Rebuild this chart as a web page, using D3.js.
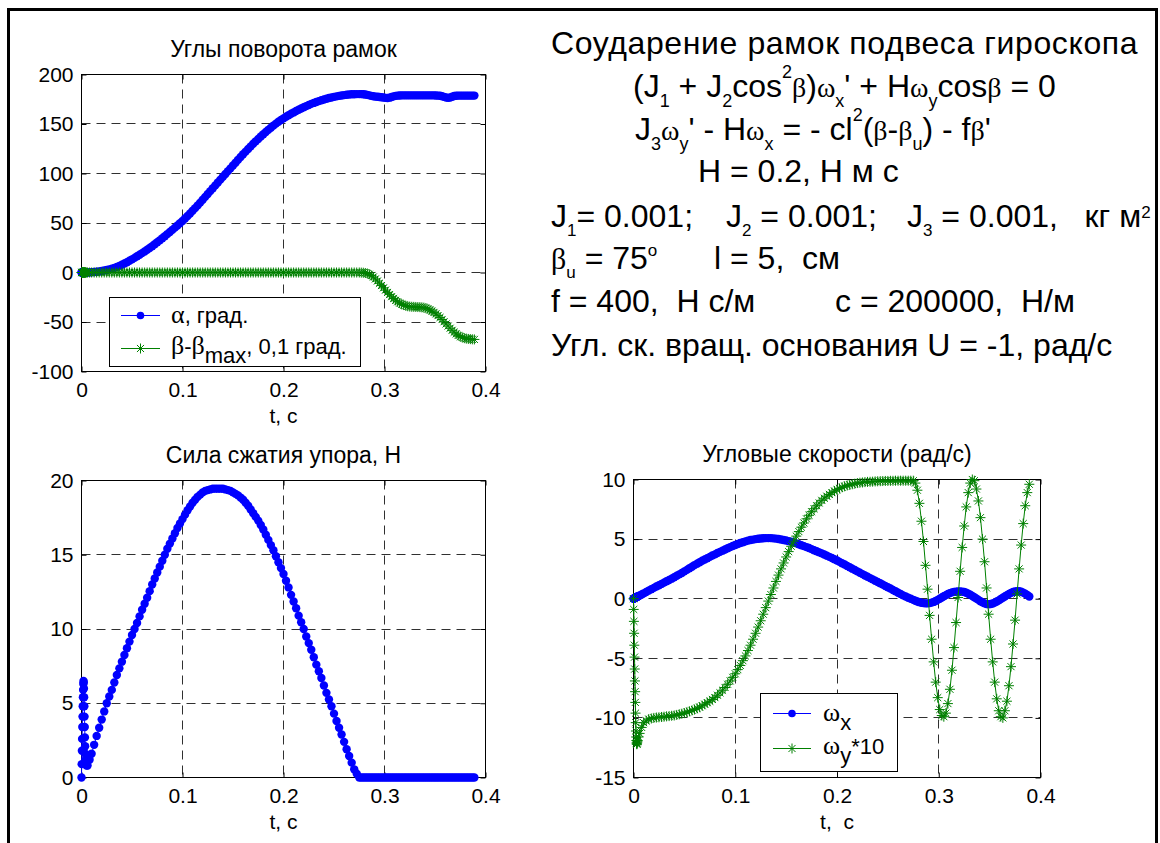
<!DOCTYPE html>
<html>
<head>
<meta charset="utf-8">
<script src="https://cdn.jsdelivr.net/npm/d3@7"></script>
<style>
  html, body { margin: 0; padding: 0; background: #fff; }
  svg { display: block; }
  text { font-family: "Liberation Sans", Arial, Helvetica, sans-serif; fill: #000; white-space: pre; }
</style>
</head>
<body>
<svg id="chart" width="1160" height="843"></svg>
<script>
// ---------------- DATA ----------------
const time = [
  0,0.0002,0.0004,0.0006,0.0008,0.001,0.0012,0.0014,0.0016,0.0018,0.002,0.0022,0.0024,0.0026,0.0028,0.003,0.0032,0.0034,0.0036,0.0038,0.004,
  0.005,0.006,0.008,
  0.01,0.0125,0.015,0.0175,0.02,0.0225,0.025,0.0275,0.03,0.0325,0.035,0.0375,0.04,0.0425,0.045,0.0475,0.05,0.0525,0.055,0.0575,
  0.06,0.0625,0.065,0.0675,0.07,0.0725,0.075,0.0775,0.08,0.0825,0.085,0.0875,0.09,0.0925,0.095,0.0975,0.1,0.1025,0.105,0.1075,
  0.11,0.1125,0.115,0.1175,0.12,0.1225,0.125,0.1275,0.13,0.1325,0.135,0.1375,0.14,0.1425,0.145,0.1475,0.15,0.1525,0.155,0.1575,
  0.16,0.1625,0.165,0.1675,0.17,0.1725,0.175,0.1775,0.18,0.1825,0.185,0.1875,0.19,0.1925,0.195,0.1975,0.2,0.2025,0.205,0.2075,
  0.21,0.2125,0.215,0.2175,0.22,0.2225,0.225,0.2275,0.23,0.2325,0.235,0.2375,0.24,0.2425,0.245,0.2475,0.25,0.2525,0.255,0.2575,
  0.26,0.2625,0.265,0.2675,0.27,0.2725,0.275,
  0.277,0.279,0.281,0.283,0.285,0.287,0.289,0.291,0.293,0.295,0.297,0.299,0.301,0.303,0.305,0.307,0.309,0.311,0.313,0.315,
  0.317,0.319,0.321,0.323,0.325,0.327,0.329,0.331,0.333,0.335,0.337,0.339,0.341,0.343,0.345,0.347,0.349,0.351,0.353,0.355,
  0.357,0.359,0.361,0.363,0.365,0.367,0.369,0.371,0.373,0.375,0.377,0.379,0.381,0.383,0.385,0.387,0.389
];

// alpha, degrees
const alphaDeg = [
  0,0,0,0,0,0,0,0,0,0,0,0,0,0,0,0,0,0,0,0,0,
  0,0,0.1,
  0.3,0.5,0.7,1.1,1.5,2.0,2.6,3.2,3.9,4.7,5.6,6.7,7.8,9.1,10.4,11.8,13.3,14.8,16.4,18.0,
  19.6,21.3,23.0,24.8,26.6,28.5,30.5,32.5,34.6,36.7,38.8,40.9,43.1,45.3,47.5,49.8,52.1,54.5,57.0,59.6,
  62.3,65.0,67.8,70.6,73.5,76.4,79.3,82.2,85.1,88.0,90.9,93.8,96.7,99.5,102.4,105.2,108.1,110.9,113.8,116.6,
  119.4,122.1,124.8,127.4,130.0,132.5,134.9,137.3,139.6,141.9,144.1,146.3,148.4,150.4,152.3,154.0,155.7,157.3,158.8,160.3,
  161.7,163.1,164.4,165.7,166.9,168.1,169.2,170.3,171.3,172.2,173.1,174.0,174.8,175.5,176.2,176.8,177.4,177.9,178.4,178.8,
  179.2,179.5,179.8,180.0,180.1,180.2,180.2,
  180.2,180.1,179.8,179.4,178.9,178.4,178.0,177.7,177.5,177.3,177.0,176.7,176.4,176.3,176.6,177.2,177.9,178.4,178.7,178.8,
  178.9,178.9,178.9,178.9,178.9,178.9,178.9,178.9,178.9,178.9,178.9,178.9,178.9,178.9,178.9,178.9,178.9,178.8,178.7,178.5,
  178.1,177.4,176.7,176.4,176.8,177.6,178.3,178.6,178.7,178.7,178.7,178.7,178.7,178.7,178.7,178.7,178.7
];

// beta - beta_max, 0.1 degree
const betaDiff = [
  0,0,0,0,0,0,0,0,0,0,0,0,0,0,0,0,0,0,0,0,0,
  0,0,0,
  0,0,0,0,0,0,0,0,0,0,0,0,0,0,0,0,0,0,0,0,
  0,0,0,0,0,0,0,0,0,0,0,0,0,0,0,0,0,0,0,0,
  0,0,0,0,0,0,0,0,0,0,0,0,0,0,0,0,0,0,0,0,
  0,0,0,0,0,0,0,0,0,0,0,0,0,0,0,0,0,0,0,0,
  0,0,0,0,0,0,0,0,0,0,0,0,0,0,0,0,0,0,0,0,
  0,0,0,0,0,0,0,
  -0.1,-0.2,-0.5,-1.0,-1.8,-3.0,-4.5,-6.5,-8.6,-10.9,-13.2,-15.5,-17.8,-20.1,-22.3,-24.4,-26.3,-28.1,-29.6,-30.9,
  -32.0,-32.9,-33.6,-34.1,-34.4,-34.6,-34.7,-34.8,-34.9,-35.0,-35.2,-35.5,-36.0,-36.8,-37.8,-39.0,-40.3,-41.8,-43.5,-45.4,
  -47.5,-49.7,-51.9,-54.1,-56.3,-58.4,-60.3,-62.0,-63.5,-64.7,-65.6,-66.3,-66.8,-67.1,-67.3,-67.5,-67.6
];

// stop compression force, N
const force = [
  0,0.9,1.8,2.6,3.4,4.1,4.8,5.4,5.9,6.3,6.5,6.4,6.0,5.4,4.8,4.1,3.4,2.7,2.1,1.6,1.2,
  0.8,0.8,1.2,
  1.6,2.2,2.8,3.35,3.9,4.45,5.0,5.45,5.9,6.4,6.9,7.35,7.8,8.25,8.7,9.15,9.6,10.0,10.4,10.85,
  11.3,11.7,12.1,12.55,13.0,13.4,13.8,14.2,14.6,15.0,15.4,15.75,16.1,16.45,16.8,17.1,17.4,17.7,18.0,18.25,
  18.5,18.7,18.9,19.05,19.2,19.3,19.35,19.4,19.45,19.45,19.45,19.45,19.45,19.4,19.35,19.3,19.2,19.1,19.0,18.85,
  18.7,18.5,18.3,18.05,17.8,17.55,17.3,17.0,16.7,16.35,16.0,15.65,15.3,14.9,14.5,14.1,13.7,13.25,12.8,12.3,
  11.85,11.4,10.9,10.45,10.0,9.5,9.05,8.6,8.1,7.6,7.15,6.7,6.2,5.7,5.25,4.8,4.3,3.8,3.35,2.9,
  2.4,1.9,1.45,1.0,0.55,0.25,0,
  0,0,0,0,0,0,0,0,0,0,0,0,0,0,0,0,0,0,0,0,
  0,0,0,0,0,0,0,0,0,0,0,0,0,0,0,0,0,0,0,0,
  0,0,0,0,0,0,0,0,0,0,0,0,0,0,0,0,0
];

// omega_x, rad/s
const omegaX = [
  0,0.01,0.02,0.03,0.04,0.05,0.05,0.06,0.07,0.08,0.09,0.1,0.11,0.12,0.13,0.14,0.14,0.15,0.16,0.17,0.18,
  0.22,0.27,0.36,
  0.45,0.56,0.68,0.8,0.91,1.02,1.13,1.24,1.35,1.46,1.57,1.68,1.80,1.92,2.04,2.16,2.29,2.42,2.55,2.68,
  2.82,2.94,3.06,3.18,3.29,3.40,3.51,3.62,3.72,3.83,3.93,4.03,4.13,4.23,4.33,4.42,4.51,4.59,4.67,4.74,
  4.81,4.87,4.92,4.96,5.00,5.03,5.05,5.07,5.08,5.08,5.08,5.06,5.04,5.01,4.97,4.93,4.88,4.83,4.78,4.71,
  4.64,4.57,4.49,4.41,4.33,4.25,4.16,4.07,3.98,3.89,3.80,3.71,3.61,3.51,3.41,3.31,3.20,3.09,2.98,2.87,
  2.75,2.64,2.52,2.41,2.29,2.18,2.06,1.95,1.84,1.73,1.62,1.51,1.40,1.29,1.18,1.07,0.96,0.85,0.73,0.62,
  0.50,0.39,0.28,0.18,0.08,-0.01,-0.10,
  -0.17,-0.23,-0.29,-0.34,-0.37,-0.39,-0.39,-0.37,-0.33,-0.27,-0.19,-0.10,0.00,0.10,0.20,0.30,0.39,0.47,0.53,0.57,
  0.59,0.60,0.60,0.59,0.56,0.50,0.42,0.33,0.23,0.12,0.01,-0.10,-0.21,-0.31,-0.39,-0.45,-0.47,-0.45,-0.40,-0.33,
  -0.24,-0.14,-0.03,0.08,0.19,0.30,0.40,0.49,0.56,0.61,0.63,0.62,0.58,0.51,0.42,0.31,0.19
];

// omega_y * 10, rad/s
const omegaY10 = [
  0,-0.9,-1.9,-2.9,-3.9,-4.9,-5.9,-6.9,-7.8,-8.7,-9.6,-10.4,-11.1,-11.6,-11.9,-12.1,-12.2,-12.2,-12.1,-12.0,-11.9,
  -11.6,-11.3,-10.8,
  -10.4,-10.25,-10.1,-10.05,-10.0,-9.97,-9.95,-9.92,-9.9,-9.87,-9.85,-9.82,-9.8,-9.75,-9.7,-9.65,-9.6,-9.52,-9.45,-9.37,
  -9.3,-9.2,-9.1,-8.98,-8.85,-8.72,-8.6,-8.45,-8.3,-8.1,-7.9,-7.68,-7.45,-7.18,-6.9,-6.6,-6.3,-5.95,-5.6,-5.2,
  -4.8,-4.35,-3.9,-3.4,-2.9,-2.38,-1.85,-1.3,-0.75,-0.2,0.35,0.9,1.45,1.98,2.5,3.0,3.5,3.95,4.4,4.83,
  5.25,5.63,6.0,6.35,6.7,7.0,7.3,7.55,7.8,8.03,8.25,8.43,8.6,8.75,8.9,9.03,9.15,9.25,9.35,9.43,
  9.5,9.55,9.6,9.65,9.7,9.73,9.75,9.78,9.8,9.81,9.82,9.84,9.85,9.86,9.87,9.88,9.88,9.89,9.89,9.9,
  9.9,9.9,9.9,9.9,9.9,9.9,9.9,
  9.7,9.1,8.0,6.5,4.8,2.8,0.8,-1.4,-3.4,-5.3,-7.0,-8.3,-9.3,-9.8,-9.9,-9.6,-8.8,-7.6,-6.0,-4.1,
  -2.0,0.1,2.3,4.3,6.1,7.7,8.9,9.7,10.0,9.9,9.2,8.2,6.8,5.0,3.1,0.9,-1.3,-3.4,-5.3,-7.0,
  -8.4,-9.4,-9.9,-10.0,-9.4,-8.6,-7.3,-5.7,-3.8,-1.8,0.4,2.5,4.5,6.3,7.8,8.9,9.6
];

const timeTicks  = [0, 0.1, 0.2, 0.3, 0.4];
const angleTicks = [-100, -50, 0, 50, 100, 150, 200];
const forceTicks = [0, 5, 10, 15, 20];
const rateTicks  = [-15, -10, -5, 0, 5, 10];

const titleAngles = "Углы поворота рамок";
const titleForce  = "Сила сжатия упора, Н";
const titleRates  = "Угловые скорости (рад/с)";
const xLabelLeft  = "t, с";
const xLabelRight = "t,  с";

// ---------------- DRAWING ----------------
const BLUE = "#0000ff", GREEN = "#008000";
const GREEK = '"Liberation Serif", "Times New Roman", serif';
const svg = d3.select("#chart");
svg.append("rect").attr("width", 1160).attr("height", 843).attr("fill", "#fff");
svg.append("rect").attr("x", 8.5).attr("y", 9.5).attr("width", 1148).attr("height", 900)
  .attr("fill", "none").attr("stroke", "#000").attr("stroke-width", 3);

const starPath = (s) => {
  const a = s * 0.7071;
  return `M${-s},0H${s}M0,${-s}V${s}M${-a},${-a}L${a},${a}M${-a},${a}L${a},${-a}`;
};

function styleAxis(sel) {
  sel.select(".domain").remove();
  sel.selectAll(".tick line").attr("stroke", "#000");
  sel.selectAll(".tick text").style("font-size", "21px")
     .style("font-family", '"Liberation Sans", Arial, sans-serif').attr("fill", "#000");
}

function panel(cfg) {
  const g = svg.append("g").attr("transform", `translate(${cfg.left + 0.5},${cfg.top + 0.5})`);
  const x = d3.scaleLinear().domain([0, 0.4]).range([0, cfg.width]);
  const y = d3.scaleLinear().domain(cfg.yDomain).range([cfg.height, 0]);

  // grid
  g.append("g").selectAll("line").data(timeTicks).join("line")
    .attr("x1", d => Math.round(x(d))).attr("x2", d => Math.round(x(d)))
    .attr("y1", 0).attr("y2", cfg.height)
    .attr("stroke", "#303030").attr("stroke-dasharray", "9,6");
  g.append("g").selectAll("line").data(cfg.yTicks).join("line")
    .attr("y1", d => Math.round(y(d))).attr("y2", d => Math.round(y(d)))
    .attr("x1", 0).attr("x2", cfg.width)
    .attr("stroke", "#303030").attr("stroke-dasharray", "9,6");

  // axes with inward ticks
  const fmt = d => String(d);
  g.append("g").attr("transform", `translate(0,${cfg.height})`)
    .call(d3.axisBottom(x).tickValues(timeTicks).tickFormat(fmt).tickSize(-5).tickPadding(11))
    .call(styleAxis);
  g.append("g")
    .call(d3.axisTop(x).tickValues(timeTicks).tickFormat("").tickSize(-5))
    .call(styleAxis);
  g.append("g")
    .call(d3.axisLeft(y).tickValues(cfg.yTicks).tickFormat(fmt).tickSize(-5).tickPadding(8))
    .call(styleAxis);
  g.append("g").attr("transform", `translate(${cfg.width},0)`)
    .call(d3.axisRight(y).tickValues(cfg.yTicks).tickFormat("").tickSize(-5))
    .call(styleAxis);
  g.append("rect").attr("width", cfg.width).attr("height", cfg.height)
    .attr("fill", "none").attr("stroke", "#000");

  // title and x label
  g.append("text").attr("x", cfg.width / 2).attr("y", -18).attr("text-anchor", "middle")
    .style("font-size", "23px").text(cfg.title);
  g.append("text").attr("x", cfg.width / 2).attr("y", cfg.height + 51).attr("text-anchor", "middle")
    .style("font-size", "21px").text(cfg.xLabel);

  // series
  cfg.series.forEach(s => {
    const pts = time.map((t, i) => [t, s.values[i]]);
    const line = d3.line().x(d => x(d[0])).y(d => y(d[1]));
    g.append("path").datum(pts).attr("d", line).attr("fill", "none")
      .attr("stroke", s.color).attr("stroke-width", 1);
    if (s.marker === "dot") {
      g.append("g").selectAll("circle").data(pts).join("circle")
        .attr("cx", d => x(d[0])).attr("cy", d => y(d[1])).attr("r", 4.2)
        .attr("fill", s.color);
    } else {
      g.append("g").selectAll("path").data(pts).join("path")
        .attr("transform", d => `translate(${x(d[0])},${y(d[1])})`)
        .attr("d", starPath(5)).attr("fill", "none")
        .attr("stroke", s.color).attr("stroke-width", 1);
    }
  });
  return g;
}

// rich text: parts = [text, kind, x]; kinds: n normal, g greek, b sub, p sup
function rich(parent, x, y, parts, opt) {
  const t = parent.append("text").attr("x", x).attr("y", y).style("font-size", opt.size + "px");
  if (opt.spacing) t.style("letter-spacing", opt.spacing + "px");
  parts.forEach(([s, kind, dx]) => {
    const ts = t.append("tspan").text(s);
    if (dx !== undefined) ts.attr("x", dx);
    if (kind === "g") ts.attr("y", y).style("font-family", GREEK).style("font-size", (opt.gsize || opt.size) + "px");
    else if (kind === "b") ts.attr("y", y + opt.sub).style("font-size", opt.small + "px");
    else if (kind === "p") ts.attr("y", y - opt.sup).style("font-size", opt.small + "px");
    else ts.attr("y", y);
  });
  return t;
}

function legend(box, rows) {
  const g = svg.append("g");
  g.append("rect").attr("x", box.x + 0.5).attr("y", box.y + 0.5).attr("width", box.w).attr("height", box.h)
    .attr("fill", "#fff").attr("stroke", "#000");
  rows.forEach(r => {
    g.append("line").attr("x1", box.lx1).attr("x2", box.lx2).attr("y1", r.y + 0.5).attr("y2", r.y + 0.5)
      .attr("stroke", r.color);
    const mx = (box.lx1 + box.lx2) / 2;
    if (r.marker === "dot") {
      g.append("circle").attr("cx", mx).attr("cy", r.y + 0.5).attr("r", 3.8).attr("fill", r.color);
    } else {
      g.append("path").attr("transform", `translate(${mx},${r.y + 0.5})`).attr("d", starPath(5))
        .attr("fill", "none").attr("stroke", r.color);
    }
    rich(g, box.tx, r.y + r.base, r.parts, { size: 22, small: 22, gsize: 26, sub: 9, sup: 10 });
  });
}

// panels
panel({ left: 81, top: 74, width: 404, height: 297, yDomain: [-100, 200], yTicks: angleTicks,
  title: titleAngles, xLabel: xLabelLeft,
  series: [ { values: alphaDeg, color: BLUE, marker: "dot" },
            { values: betaDiff, color: GREEN, marker: "star" } ] });

panel({ left: 81, top: 480, width: 404, height: 297, yDomain: [0, 20], yTicks: forceTicks,
  title: titleForce, xLabel: xLabelLeft,
  series: [ { values: force, color: BLUE, marker: "dot" } ] });

panel({ left: 633, top: 479, width: 407, height: 298, yDomain: [-15, 10], yTicks: rateTicks,
  title: titleRates, xLabel: xLabelRight,
  series: [ { values: omegaX, color: BLUE, marker: "dot" },
            { values: omegaY10, color: GREEN, marker: "star" } ] });

// legends
legend({ x: 109, y: 297, w: 251, h: 69, lx1: 121, lx2: 160, tx: 171 }, [
  { y: 315, color: BLUE, marker: "dot", base: 8, parts: [["α", "g"], [", град.", "n"]] },
  { y: 348, color: GREEN, marker: "star", base: 6,
    parts: [["β", "g"], ["-", "n"], ["β", "g"], ["max", "b"], [", 0,1 град.", "n"]] }
]);
legend({ x: 760, y: 693, w: 137, h: 78, lx1: 773, lx2: 811, tx: 823 }, [
  { y: 713, color: BLUE, marker: "dot", base: 8, parts: [["ω", "g"], ["x", "b"]] },
  { y: 748, color: GREEN, marker: "star", base: 6, parts: [["ω", "g"], ["y", "b"], ["*10", "n"]] }
]);

// annotation block
const note = svg.append("g");
const big = { size: 32, small: 18, gsize: 28, sub: 10, sup: 19 };
rich(note, 551, 54, [["Соударение рамок подвеса гироскопа", "n"]], { size: 32, spacing: 0.6 });
rich(note, 633, 97, [["(J", "n"], ["1", "b"], [" + J", "n"], ["2", "b"], ["cos", "n"], ["2", "p"], ["β", "g"],
  [")", "n"], ["ω", "g"], ["x", "b"], ["' + H", "n"], ["ω", "g"], ["y", "b"], ["cos", "n"], ["β", "g"], [" = 0", "n"]], big);
rich(note, 635, 140, [["J", "n"], ["3", "b"], ["ω", "g"], ["y", "b"], ["' - H", "n"], ["ω", "g"], ["x", "b"],
  [" = - cl", "n"], ["2", "p"], ["(", "n"], ["β", "g"], ["-", "n"], ["β", "g"], ["u", "b"], [") - f", "n"], ["β", "g"], ["'", "n"]], big);
rich(note, 698, 182, [["H = 0.2, Н м с", "n"]], big);
rich(note, 551, 227, [["J", "n"], ["1", "b"], ["= 0.001;", "n"], ["J", "n", 726], ["2", "b"], [" = 0.001;", "n"],
  ["J", "n", 907], ["3", "b"], [" = 0.001,   кг м", "n"], ["2", "p"]], { size: 32, small: 17, sub: 9, sup: 9 });
rich(note, 551, 269, [["β", "g"], ["u", "b"], [" = 75", "n"], ["o", "p"], ["l = 5,  см", "n", 714]],
  { size: 32, small: 17, gsize: 30, sub: 9, sup: 13 });
rich(note, 551, 312, [["f = 400,  Н с/м", "n"], ["c = 200000,  Н/м", "n", 835]], big);
rich(note, 551, 356, [["Угл. ск. вращ. основания U = -1, рад/с", "n"]], big);
</script>
</body>
</html>
